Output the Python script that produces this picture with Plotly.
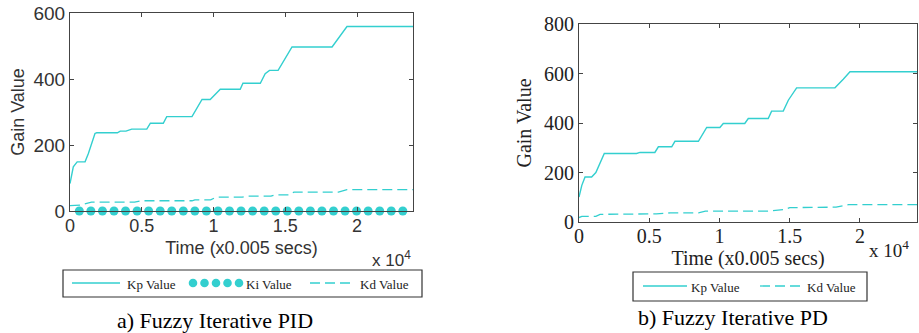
import plotly.graph_objects as go

W, H = 919, 333
TEAL = "#33CFCF"
AX = "#444444"

# ---- data: a) Fuzzy Iterative PID ----
a_kp_t = [0, 230, 500, 1050, 1280, 1740, 1860, 3300, 3500, 3900, 4300, 5350, 5600, 6500, 6740,
          8500, 9200, 9770, 10470, 11860, 12050, 13260, 13600, 13900, 14500, 15470, 18260, 19300, 24000]
a_kp_v = [83, 134, 149, 149, 174, 235, 237, 237, 242, 242, 248, 248, 266, 266, 286,
          286, 338, 338, 369, 369, 387, 387, 416, 426, 426, 497, 497, 559, 559]
a_kd_t = [0, 700, 1500, 4500, 5000, 8500, 8700, 9800, 10200, 12000, 12300, 14000, 14300,
          15300, 15600, 18700, 19300, 24000]
a_kd_v = [16, 18, 27, 27, 31, 31, 34, 34, 42, 42, 45, 45, 49, 49, 57, 57, 65, 65]
a_ki_t = [650, 1455, 2260, 3065, 3870, 4675, 5480, 6285, 7090, 7895, 8700, 9505, 10310, 11115,
          11920, 12725, 13530, 14335, 15140, 15945, 16750, 17555, 18360, 19165, 19970, 20775,
          21580, 22385, 23190]
a_ki_v = [0, 0, 0, 0, 0, 0, 0, 0, 0, 0, 0, 0, 0, 0, 0, 0, 0, 0, 0, 0, 0, 0, 0, 0, 0, 0, 0, 0, 0]

# ---- data: b) Fuzzy Iterative PD ----
b_kp_t = [0, 200, 430, 900, 1200, 1500, 1800, 4100, 4340, 5400, 5650, 6600, 6830, 8500, 9090,
          10030, 10270, 11800, 12050, 13470, 13710, 14540, 14900, 15490, 18220, 18810, 19290, 24100]
b_kp_v = [101, 148, 182, 182, 200, 236, 277, 277, 281, 281, 304, 304, 326, 326, 382,
          382, 398, 398, 418, 418, 448, 448, 492, 542, 542, 577, 607, 607]
b_kd_t = [0, 200, 1200, 1500, 5500, 6500, 8500, 9000, 13500, 14700, 15000, 18300, 19200, 24100]
b_kd_v = [18, 23, 23, 31, 33, 37, 37, 44, 44, 51, 58, 60, 70, 70]

x_tickvals = [0, 5000, 10000, 15000, 20000]
x_ticktext = ["0", "0.5", "1", "1.5", "2"]
a_y_ticks = [0, 200, 400, 600]
b_y_ticks = [0, 200, 400, 600, 800]

SANS = "Liberation Sans, Arial, sans-serif"
SERIF = "Liberation Serif, Times New Roman, serif"


def px(x):
    return x / W


def py(y):
    return 1 - y / H


fig = go.Figure()
fig.add_trace(go.Scatter(x=a_kp_t, y=a_kp_v, mode="lines", line=dict(color=TEAL, width=1.4),
                         name="Kp Value", xaxis="x", yaxis="y", showlegend=False))
fig.add_trace(go.Scatter(x=a_kd_t, y=a_kd_v, mode="lines", line=dict(color=TEAL, width=1.3, dash="10px,5px"),
                         name="Kd Value", xaxis="x", yaxis="y", showlegend=False))
fig.add_trace(go.Scatter(x=a_ki_t, y=a_ki_v, mode="markers", marker=dict(color=TEAL, size=9),
                         name="Ki Value", xaxis="x", yaxis="y", showlegend=False, cliponaxis=False))
fig.add_trace(go.Scatter(x=b_kp_t, y=b_kp_v, mode="lines", line=dict(color=TEAL, width=1.4),
                         name="Kp Value", xaxis="x2", yaxis="y2", showlegend=False))
fig.add_trace(go.Scatter(x=b_kd_t, y=b_kd_v, mode="lines", line=dict(color=TEAL, width=1.3, dash="10px,5px"),
                         name="Kd Value", xaxis="x2", yaxis="y2", showlegend=False))

common = dict(showline=True, mirror="ticks", linecolor=AX, linewidth=1.2, ticks="inside",
              ticklen=4, tickcolor=AX, showgrid=False, zeroline=False, automargin=False)

fig.update_layout(
    width=W, height=H, autosize=False,
    margin=dict(l=0, r=0, t=0, b=0, autoexpand=False),
    paper_bgcolor="white", plot_bgcolor="white",
    xaxis=dict(domain=[px(70), px(413)], range=[0, 23900], anchor="y",
               tickvals=x_tickvals, ticktext=x_ticktext, ticklabelstandoff=-2,
               tickfont=dict(family=SANS, size=18, color="#333"),
               title=dict(text="Time (x0.005 secs)", font=dict(family=SANS, size=18, color="#333"), standoff=6),
               **common),
    yaxis=dict(domain=[py(211), py(13)], range=[0, 600], anchor="x",
               tickvals=a_y_ticks,
               tickfont=dict(family=SANS, size=19, color="#333"),
               title=dict(text="Gain Value", font=dict(family=SANS, size=18, color="#333"), standoff=4),
               **common),
    xaxis2=dict(domain=[px(579), px(917)], range=[0, 24060], anchor="y2",
                tickvals=x_tickvals, ticktext=x_ticktext, ticklabelstandoff=-4,
                tickfont=dict(family=SERIF, size=20, color="#222"),
                title=dict(text="Time (x0.005 secs)", font=dict(family=SERIF, size=20, color="#222"), standoff=2),
                **common),
    yaxis2=dict(domain=[py(222), py(24)], range=[0, 800], anchor="x2",
                tickvals=b_y_ticks,
                tickfont=dict(family=SERIF, size=20, color="#222"),
                title=dict(text="Gain Value", font=dict(family=SERIF, size=20, color="#222"), standoff=6),
                **common),
)

shapes = []
annots = []

# exponent labels
annots.append(dict(x=px(413), y=py(259), xref="paper", yref="paper", xanchor="right", yanchor="middle",
                   text="x 10<sup>4</sup>", showarrow=False, font=dict(family=SANS, size=17, color="#333")))
annots.append(dict(x=px(911), y=py(249), xref="paper", yref="paper", xanchor="right", yanchor="middle",
                   text="x 10<sup>4</sup>", showarrow=False, font=dict(family=SERIF, size=19, color="#222")))

# panel captions
annots.append(dict(x=px(215), y=py(320), xref="paper", yref="paper", xanchor="center", yanchor="middle",
                   text="a) Fuzzy Iterative PID", showarrow=False, font=dict(family=SERIF, size=22, color="black")))
annots.append(dict(x=px(733), y=py(317), xref="paper", yref="paper", xanchor="center", yanchor="middle",
                   text="b) Fuzzy Iterative PD", showarrow=False, font=dict(family=SERIF, size=22, color="black")))

LFONT = dict(family=SERIF, size=13, color="#222")

# legend a
shapes.append(dict(type="rect", xref="paper", yref="paper", x0=px(63), x1=px(422), y0=py(297), y1=py(270),
                   line=dict(color="#333", width=1.2), fillcolor="white"))
shapes.append(dict(type="line", xref="paper", yref="paper", x0=px(72), x1=px(120), y0=py(283), y1=py(283),
                   line=dict(color=TEAL, width=1.4)))
annots.append(dict(x=px(125), y=py(284), xref="paper", yref="paper", xanchor="left", yanchor="middle",
                   text="Kp Value", showarrow=False, font=LFONT))
for cx in [193, 204.5, 216, 227.5, 239]:
    shapes.append(dict(type="circle", xref="paper", yref="paper", x0=px(cx - 4.3), x1=px(cx + 4.3),
                       y0=py(283 + 4.3), y1=py(283 - 4.3), line=dict(width=0), fillcolor=TEAL))
annots.append(dict(x=px(244), y=py(284), xref="paper", yref="paper", xanchor="left", yanchor="middle",
                   text="Ki Value", showarrow=False, font=LFONT))
shapes.append(dict(type="line", xref="paper", yref="paper", x0=px(310), x1=px(355), y0=py(283), y1=py(283),
                   line=dict(color=TEAL, width=1.3, dash="10px,5px")))
annots.append(dict(x=px(358), y=py(284), xref="paper", yref="paper", xanchor="left", yanchor="middle",
                   text="Kd Value", showarrow=False, font=LFONT))

# legend b
shapes.append(dict(type="rect", xref="paper", yref="paper", x0=px(633), x1=px(867), y0=py(301), y1=py(272),
                   line=dict(color="#333", width=1.2), fillcolor="white"))
shapes.append(dict(type="line", xref="paper", yref="paper", x0=px(643), x1=px(687), y0=py(286), y1=py(286),
                   line=dict(color=TEAL, width=1.4)))
annots.append(dict(x=px(689), y=py(287), xref="paper", yref="paper", xanchor="left", yanchor="middle",
                   text="Kp Value", showarrow=False, font=LFONT))
shapes.append(dict(type="line", xref="paper", yref="paper", x0=px(760), x1=px(803), y0=py(286), y1=py(286),
                   line=dict(color=TEAL, width=1.3, dash="10px,5px")))
annots.append(dict(x=px(805), y=py(287), xref="paper", yref="paper", xanchor="left", yanchor="middle",
                   text="Kd Value", showarrow=False, font=LFONT))

fig.update_layout(shapes=shapes, annotations=annots)
fig.write_html("out.html", config={"displayModeBar": False},
               post_script="document.body.style.margin='0';document.body.style.overflow='hidden';")
